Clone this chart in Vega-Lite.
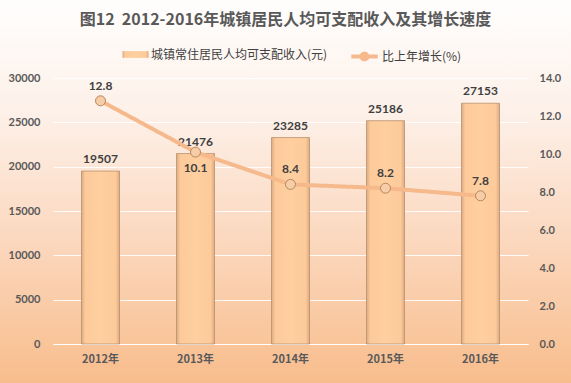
{
  "$schema": "https://vega.github.io/schema/vega-lite/v6.json",
  "width": 571,
  "height": 383,
  "autosize": {"type": "none"},
  "padding": 0,
  "background": "#fce6d8",
  "title": {"text": "图12\u00a0\u00a02012-2016年城镇居民人均可支配收入及其增长速度", "font": "Noto Sans CJK SC", "fontSize": 16, "fontWeight": "bold", "color": "#595959", "anchor": "middle", "offset": -28},
  "config": {"view": {"stroke": null, "fill": {"gradient": "linear", "x1": 0, "y1": 0, "x2": 0, "y2": 1, "stops": [{"offset": 0, "color": "#fffefd"}, {"offset": 0.3, "color": "#fdf0e8"}, {"offset": 0.65, "color": "#fbd6bb"}, {"offset": 1, "color": "#f8bd8c"}]}}, "font": "Lato"},
  "data": {"values": [
    {"year": "2012年", "income": 19507, "growth": 12.8},
    {"year": "2013年", "income": 21476, "growth": 10.1},
    {"year": "2014年", "income": 23285, "growth": 8.4},
    {"year": "2015年", "income": 25186, "growth": 8.2},
    {"year": "2016年", "income": 27153, "growth": 7.8}
  ]},
  "encoding": {
    "x": {"field": "year", "type": "nominal", "sort": null, "title": null,
      "scale": {"paddingInner": 0.6, "paddingOuter": 0.3, "range": [53, 528]},
      "axis": {"offset": -39, "labelAngle": 0, "labelFont": "Noto Sans CJK SC", "labelFontWeight": "bold", "labelFontSize": 11, "labelColor": "#595959", "labelPadding": 9, "ticks": false, "domainColor": "#ffffff", "domainWidth": 1.2}}
  },
  "layer": [
    {
      "layer": [
        {
          "mark": {"type": "bar", "stroke": "#b08a66", "strokeWidth": 0.7,
            "fill": {"gradient": "linear", "x1": 0, "y1": 0, "x2": 1, "y2": 0, "stops": [{"offset": 0, "color": "#dcab83"}, {"offset": 0.1, "color": "#fdca9a"}, {"offset": 0.5, "color": "#ffcf9f"}, {"offset": 0.9, "color": "#fdca9a"}, {"offset": 1, "color": "#dcab83"}]}},
          "encoding": {
            "y": {"field": "income", "type": "quantitative", "title": null,
              "scale": {"domain": [0, 30000], "range": [344, 78]},
              "axis": {"offset": -53, "values": [0, 5000, 10000, 15000, 20000, 25000, 30000], "format": "d", "grid": true, "gridColor": "#ffffff", "gridOpacity": 0.9, "domain": false, "ticks": false, "labelFont": "Lato", "labelFontWeight": "bold", "labelFontSize": 11, "labelColor": "#595959", "labelPadding": 13, "labelOverlap": false}},
            "opacity": {"datum": "城镇常住居民人均可支配收入(元)", "type": "nominal",
              "scale": {"range": [1]},
              "legend": {"orient": "none", "legendX": 122, "legendY": 41, "title": null,
                "labelFont": "Noto Sans CJK SC", "labelFontSize": 12, "labelColor": "#404040", "labelLimit": 300, "symbolSize": 680, "symbolStrokeWidth": 0.8, "labelOffset": 2,
                "symbolType": "M-1,-0.26H1V0.26H-1Z", "symbolFillColor": "#fbd2a8", "symbolStrokeColor": "#b08a66"}
            }
          }
        },
        {
          "mark": {"type": "text", "baseline": "bottom", "dy": -5, "font": "Lato", "fontWeight": "bold", "fontSize": 12, "color": "#404040"},
          "encoding": {
            "y": {"field": "income", "type": "quantitative", "scale": {"domain": [0, 30000], "range": [344, 78]}},
            "text": {"field": "income", "type": "quantitative", "format": "d"}
          }
        }
      ]
    },
    {
      "layer": [
        {
          "mark": {"type": "line", "color": "#f5b98c", "strokeWidth": 4},
          "encoding": {
            "y": {"field": "growth", "type": "quantitative", "title": null,
              "scale": {"domain": [0, 14], "range": [344, 78]},
              "axis": {"orient": "right", "offset": -43, "values": [0, 2, 4, 6, 8, 10, 12, 14], "format": ".1f", "grid": false, "domain": false, "ticks": false, "labelFont": "Lato", "labelFontWeight": "bold", "labelFontSize": 11, "labelColor": "#595959", "labelPadding": 11, "labelOverlap": false}},
            "strokeDash": {"datum": "比上年增长(%)", "type": "nominal",
              "scale": {"range": [[1, 0]]},
              "legend": {"orient": "none", "legendX": 349, "legendY": 41, "title": null,
                "labelFont": "Noto Sans CJK SC", "labelFontSize": 12, "labelColor": "#404040", "labelLimit": 300, "symbolSize": 700, "symbolStrokeWidth": 4, "labelOffset": 2,
                "symbolType": "M-1,0H1M-0.22,0A0.22,0.22 0 1,1 0.22,0A0.22,0.22 0 1,1 -0.22,0", "symbolFillColor": "#f6cda6", "symbolStrokeColor": "#f5b98c"}
            }
          }
        },
        {
          "mark": {"type": "point", "filled": true, "fill": "#f6cda6", "stroke": "#b5875f", "strokeWidth": 1, "size": 100, "opacity": 1},
          "encoding": {
            "y": {"field": "growth", "type": "quantitative", "scale": {"domain": [0, 14], "range": [344, 78]}}
          }
        },
        {
          "transform": [{"filter": "datum.year != '2013年'"}],
          "mark": {"type": "text", "baseline": "bottom", "dy": -8, "font": "Lato", "fontWeight": "bold", "fontSize": 12, "color": "#404040"},
          "encoding": {
            "y": {"field": "growth", "type": "quantitative", "scale": {"domain": [0, 14], "range": [344, 78]}},
            "text": {"field": "growth", "type": "quantitative", "format": ".1f"}
          }
        },
        {
          "transform": [{"filter": "datum.year == '2013年'"}],
          "mark": {"type": "text", "baseline": "top", "dy": 11, "font": "Lato", "fontWeight": "bold", "fontSize": 12, "color": "#404040"},
          "encoding": {
            "y": {"field": "growth", "type": "quantitative", "scale": {"domain": [0, 14], "range": [344, 78]}},
            "text": {"field": "growth", "type": "quantitative", "format": ".1f"}
          }
        }
      ]
    }
  ],
  "resolve": {"scale": {"y": "independent"}}
}
